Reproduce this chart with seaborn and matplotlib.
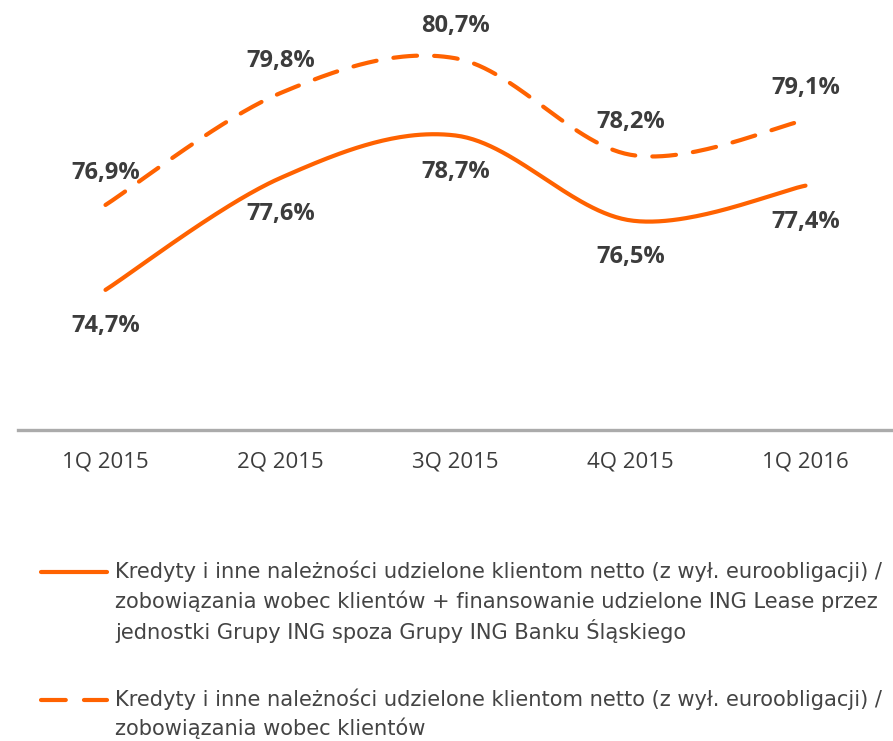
import numpy as np
import pandas as pd
import seaborn as sns
import matplotlib.pyplot as plt
from matplotlib.lines import Line2D

quarters = ["1Q 2015", "2Q 2015", "3Q 2015", "4Q 2015", "1Q 2016"]
ratio_incl_lease = [74.7, 77.6, 78.7, 76.5, 77.4]
ratio_deposits = [76.9, 79.8, 80.7, 78.2, 79.1]

legend_incl_lease = [
    "Kredyty i inne należności udzielone klientom netto (z wył. euroobligacji) /",
    "zobowiązania wobec klientów + finansowanie udzielone ING Lease przez",
    "jednostki Grupy ING spoza Grupy ING Banku Śląskiego",
]
legend_deposits = [
    "Kredyty i inne należności udzielone klientom netto (z wył. euroobligacji) /",
    "zobowiązania wobec klientów",
]

ORANGE = "#FF6200"
TEXT = "#3c3c3c"
LEGEND_TEXT = "#444444"
FONT = "Open Sans"


def smooth(values, n=60):
    """Smoothed line through the points: cubic Bezier segments with
    Catmull-Rom style control points (end points duplicated)."""
    y = np.asarray(values, dtype=float)
    x = np.arange(len(y), dtype=float)
    pts = np.column_stack([x, y])
    ext = np.vstack([pts[:1], pts, pts[-1:]])
    out = []
    for i in range(len(y) - 1):
        p0, p1, p2, p3 = ext[i], ext[i + 1], ext[i + 2], ext[i + 3]
        b1 = p1 + (p2 - p0) / 6.0
        b2 = p2 - (p3 - p1) / 6.0
        t = np.linspace(0, 1, n, endpoint=(i == len(y) - 2))[:, None]
        seg = ((1 - t) ** 3) * p1 + 3 * ((1 - t) ** 2) * t * b1 \
            + 3 * (1 - t) * t ** 2 * b2 + t ** 3 * p2
        out.append(seg)
    out = np.vstack(out)
    return out[:, 0], out[:, 1]


sns.set_theme(style="white")
plt.rcParams["font.family"] = [FONT, "DejaVu Sans"]

fig = plt.figure(figsize=(8.93, 7.41), dpi=100)
ax = fig.add_axes([18 / 893, 1 - 430 / 741, 1 - 18 / 893, 430 / 741])

lw = 3.0
for values, dash in [(ratio_incl_lease, None), (ratio_deposits, (5.7, 4.1))]:
    sx, sy = smooth(values)
    df = pd.DataFrame({"x": sx, "y": sy})
    kws = dict(color=ORANGE, linewidth=lw, solid_capstyle="round",
               dash_capstyle="round")
    if dash is not None:
        kws["linestyle"] = (0, dash)
    sns.lineplot(data=df, x="x", y="y", ax=ax, sort=False, estimator=None, **kws)

# value labels: deposits ratio above, lease-inclusive ratio below
label_kw = dict(textcoords="offset points", ha="center", va="baseline",
                fontsize=17, fontweight="bold", color=TEXT)
for i, v in enumerate(ratio_deposits):
    ax.annotate(f"{v:.1f}%".replace(".", ","), (i, v), xytext=(0, 19), **label_kw)
for i, v in enumerate(ratio_incl_lease):
    ax.annotate(f"{v:.1f}%".replace(".", ","), (i, v), xytext=(0, -30.5), **label_kw)

ax.set_xlim(-0.5, 4.5)
ax.set_ylim(71.07, 82.21)
ax.set_xticks(range(len(quarters)))
ax.set_xticklabels(quarters, fontsize=16, color=TEXT)
ax.set_yticks([])
ax.set_xlabel("")
ax.set_ylabel("")
ax.tick_params(axis="x", length=0, pad=15.5)
for side in ["top", "left", "right"]:
    ax.spines[side].set_visible(False)
ax.spines["bottom"].set_color("#ababab")
ax.spines["bottom"].set_linewidth(2.4)
ax.patch.set_alpha(0)


# legend drawn below the plot
def fy(py):
    return 1 - py / 741


def legend_entry(lines, top_baseline, dash, spacing=30.5):
    handle_y = top_baseline - 6
    ln = Line2D([41 / 893, 107 / 893], [fy(handle_y)] * 2, transform=fig.transFigure,
                color=ORANGE, linewidth=lw, solid_capstyle="round",
                dash_capstyle="round")
    if dash is not None:
        ln.set_linestyle((0, dash))
    fig.add_artist(ln)
    for k, line in enumerate(lines):
        fig.text(115 / 893, fy(top_baseline + spacing * k), line, fontsize=15.1,
                 color=LEGEND_TEXT, ha="left", va="baseline",
                 family=["DejaVu Sans"])


legend_entry(legend_incl_lease, 578, None)
legend_entry(legend_deposits, 706, (5.95, 4.36), spacing=29)

fig.savefig("out.png", dpi=100)
